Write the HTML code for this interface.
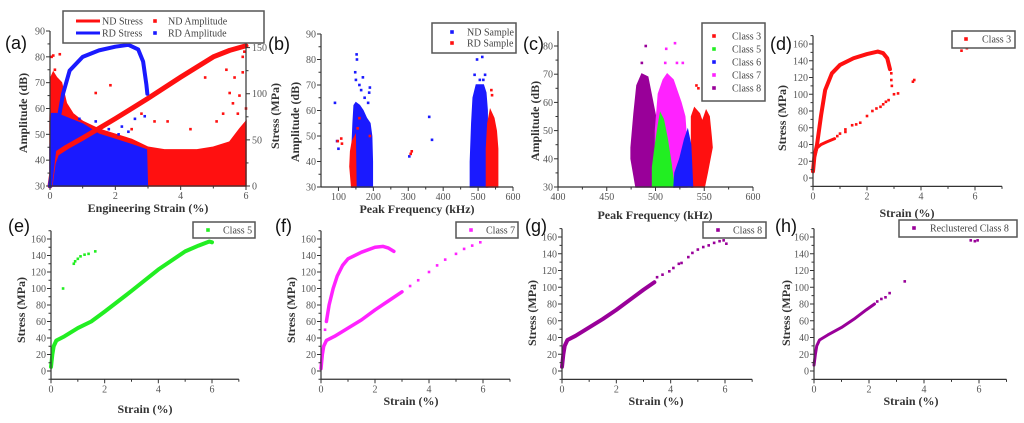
<!DOCTYPE html>
<html><head><meta charset="utf-8"><style>
html,body{margin:0;padding:0;background:#fff;}
svg{display:block;}
.tk{font-family:"Liberation Serif",serif;font-size:10px;fill:#555;}
.lb{font-family:"Liberation Serif",serif;font-size:12px;font-weight:bold;fill:#333;}
.lt{font-family:"Liberation Sans",sans-serif;font-size:18px;fill:#111;}
.lg{font-family:"Liberation Serif",serif;font-size:10px;fill:#444;}
</style></head><body>
<svg id="fig" width="1024" height="423" viewBox="0 0 1024 423" xmlns="http://www.w3.org/2000/svg"></svg>
<script>
// ---------- DATA ----------
// (a)
const aNDStress=[[0,0],[0.1,25],[0.2,35],[0.5,42],[1,52],[2,73],[3,95],[4,118],[5,140],[5.5,147],[6,152]];
const aRDStress=[[0,0],[0.2,60],[0.4,100],[0.6,125],[1,140],[1.5,147],[2,151],[2.4,153],[2.7,148],[2.85,135],[2.95,110],[2.98,100]];
const aNDAmpCloud=[[0,30],[0,55],[0.03,72],[0.1,74],[0.2,72],[0.35,70],[0.5,62],[0.7,58],[1,55],[1.5,52],[2,50],[2.5,48],[3,45],[3.5,44],[4,44],[4.5,44],[5,45],[5.5,47],[5.8,52],[6,55],[6,30]];
const aRDAmpCloud=[[0,30],[0,45],[0.05,58],[0.2,58],[0.4,57],[0.6,56],[1,54],[1.5,50],[2,48],[2.5,46],[2.95,44],[2.98,30]];
const aNDAmpPts=[[0.05,80],[0.1,80.5],[0.3,81],[0.15,75],[1.4,66],[1.85,69],[4.75,72],[5.4,75],[5.65,72],[5.95,82],[5.9,80],[5.9,74],[5.5,66],[5.6,62],[5.3,58],[5.1,55],[4.3,52],[3.6,55],[3.2,55],[2.8,58],[2.5,52],[5.8,65],[6,60],[5.75,58]];
const aRDAmpPts=[[0.9,56],[1.4,55],[1.8,52],[2.1,50],[2.2,53],[2.6,56],[2.9,57],[2.4,51]];
// (b)
const bNDCloud1=[[138,30],[139,45],[142,55],[145,62],[150,63],[160,62],[170,60],[180,57],[190,55],[195,50],[197,40],[197,30]];
const bNDCloud2=[[478,30],[478,40],[482,55],[486,65],[495,70],[505,70],[515,70],[522,67],[526,60],[527,30]];
const bRDCloud1=[[133,38],[135,44],[140,48],[148,50],[150,30],[138,30]];
const bRDCloud2=[[524,30],[524,45],[528,55],[535,60],[545,57],[552,52],[556,45],[556,30]];
const bNDPts=[[152,82],[153,80],[148,75],[150,72],[160,70],[170,73],[165,68],[190,69],[188,67],[175,65],[185,63],[90,63],[96,48],[100,45],[360,57.5],[368,48.5],[303,42],[497,80],[512,81],[520,74],[505,72],[490,74],[515,72]];
const bRDPts=[[108,49],[110,47],[98,48],[160,57],[155,53],[307,43],[310,44],[540,66],[538,68],[190,50]];
// (c)
const cClass8=[[475,44],[478,56],[481,66],[486,70],[492,69],[496,62],[500,55],[500,30],[480,30],[475,40]];
const cClass7=[[500,30],[500,50],[503,63],[508,68],[512,70],[518,68],[522,64],[526,60],[530,55],[532,45],[532,30]];
const cClass5=[[497,30],[497,37],[500,45],[503,52],[505,56],[508,54],[512,47],[516,38],[519,30]];
const cClass6=[[519,30],[520,35],[525,40],[530,47],[533,50],[536,45],[538,30]];
const cClass3=[[537,30],[537,55],[540,58],[545,56],[548,53],[552,57],[555,55],[557,48],[558,44],[553,35],[550,30]];
const cClass8Pts=[[490,80],[486,74]];
const cClass7Pts=[[520,81],[511,79],[522,74],[528,74],[510,74]];
const cClass3Pts=[[542,66],[544,65]];
// (d)
const dCurve1=[[0,8],[0.05,25],[0.15,40],[0.3,75],[0.45,105],[0.7,125],[1,135],[1.5,143],[2,148],[2.4,151],[2.6,149],[2.75,143],[2.85,130]];
const dCurve2=[[0.05,25],[0.15,36],[0.3,40],[0.5,43],[0.8,47]];
const dPts=[[2.9,117],[2.92,110],[2.9,125],[3,100],[3.15,101],[2.8,93],[2.7,91],[2.6,88],[2.5,85],[2.35,83],[2.2,80],[2,74],[1.75,66],[1.6,64],[1.45,63],[1.2,58],[1.2,55],[1,53],[0.9,50],[3.75,117],[3.7,115],[5.5,152],[5.7,155]];
// (e)
const eCurve=[[0,5],[0.05,20],[0.1,30],[0.2,37],[0.5,42],[1,52],[1.5,60],[2,72],[3,97],[4,123],[5,145],[5.5,152],[5.9,157],[6,156]];
const ePts=[[0.45,100],[0.85,130],[0.9,133],[1,136],[1.1,139],[1.25,141],[1.4,142],[1.65,145]];
// (f)
const fCurve1=[[0,3],[0.05,20],[0.1,30],[0.2,37],[0.5,42],[1,52],[1.5,62],[2,74],[2.5,85],[3,96]];
const fCurve2=[[0.2,60],[0.3,80],[0.45,100],[0.6,115],[0.8,128],[1,136],[1.5,144],[2,150],[2.3,151],[2.5,149],[2.7,145]];
const fPts=[[0.15,50],[3.3,103],[3.6,110],[4,120],[4.3,128],[4.6,135],[5,142],[5.3,148],[5.6,152],[5.9,156]];
// (g)
const gCurve=[[0,5],[0.05,20],[0.1,30],[0.2,37],[0.5,42],[1,52],[1.5,62],[2,73],[2.5,85],[3,97],[3.4,106]];
const gPts=[[3.5,112],[3.7,115],[3.95,119],[4.1,123],[4.3,128],[4.4,129],[4.65,136],[4.8,141],[5,145],[5.2,148],[5.4,150],[5.6,153],[5.8,155],[5.95,156],[6.05,152]];
// (h)
const hCurve=[[0,7],[0.05,20],[0.1,30],[0.2,37],[0.5,43],[1,52],[1.5,63],[1.9,73],[2.2,80]];
const hPts=[[2.3,83],[2.45,86],[2.6,88],[2.75,93],[3.3,107],[5.7,156],[5.85,155],[5.95,156]];
// ticks
const strainTicks=[0,2,4,6];
const stressTicks=[0,20,40,60,80,100,120,140,160];
const ampTicksA=[30,40,50,60,70,80,90];
const stressTicksA=[0,50,100,150];
const freqTicksB=[100,200,300,400,500,600];
const freqTicksC=[400,450,500,550,600];
const ampTicksC=[30,40,50,60,70,80];

// ---------- DRAW ----------
const NS='http://www.w3.org/2000/svg';
const svg=document.getElementById('fig');
function mk(tag,attrs,name,parent){
  const e=document.createElementNS(NS,tag);
  for(const k in attrs)e.setAttribute(k,attrs[k]);
  
  
  (parent||svg).appendChild(e);return e;
}
function txt(x,y,s,cls,name,extra){
  const t=mk('text',Object.assign({x:x,y:y,class:cls},extra||{}),name);
  t.textContent=s;return t;
}
function scale(d,p){return v=>p[0]+(v-d[0])*(p[1]-p[0])/(d[1]-d[0]);}
const RED='#ff1010',BLUE='#1a1aff',GREEN='#22ee22',MAG='#ff22ff',PUR='#990099';

function axes(P){
  const g=mk('g',{},P.id+'-axes');
  const X=P.X,Y=P.Y;
  const yb=Y(P.yr[0]),yt=Y(P.yr[1]),xl=X(P.xr[0]),xr=X(P.xr[1]);
  mk('line',{x1:xl,y1:yb,x2:xr,y2:yb,stroke:'#333','stroke-width':1.2},P.id+'-x-axis',g);
  mk('line',{x1:xl,y1:yb,x2:xl,y2:yt,stroke:'#333','stroke-width':1.2},P.id+'-y-axis',g);
  P.xt.forEach(v=>{mk('line',{x1:X(v),y1:yb,x2:X(v),y2:yb+4,stroke:'#333'},P.id+'-x-tick',g);
    txt(X(v),yb+13,String(v),'tk',P.id+'-x-tick-label',{'text-anchor':'middle'});});
  P.xm.forEach(v=>mk('line',{x1:X(v),y1:yb,x2:X(v),y2:yb+2.5,stroke:'#333'},P.id+'-x-minor-tick',g));
  P.yt.forEach(v=>{mk('line',{x1:xl,y1:Y(v),x2:xl-4,y2:Y(v),stroke:'#333'},P.id+'-y-tick',g);
    txt(xl-5,Y(v)+3.5,String(v),'tk',P.id+'-y-tick-label',{'text-anchor':'end'});});
  P.ym.forEach(v=>mk('line',{x1:xl,y1:Y(v),x2:xl-2.5,y2:Y(v),stroke:'#333'},P.id+'-y-minor-tick',g));
}
function poly(P,pts,col,name){
  mk('polygon',{points:pts.map(p=>P.X(p[0])+','+P.Y(p[1])).join(' '),fill:col,stroke:col,'stroke-width':1.5},name);
}
function curve(P,pts,col,w,name,Yf){
  const Yy=Yf||P.Y;
  mk('polyline',{points:pts.map(p=>P.X(p[0])+','+Yy(p[1])).join(' '),fill:'none',stroke:col,'stroke-width':w,'stroke-linejoin':'round','stroke-linecap':'round'},name);
}
function dots(P,pts,col,name,Yf){
  const Yy=Yf||P.Y;
  pts.forEach(p=>mk('rect',{x:P.X(p[0])-1.3,y:Yy(p[1])-1.3,width:2.6,height:2.6,fill:col},name));
}
function legend(x,y,w,h,items,name){
  const g=mk('g',{},name);
  mk('rect',{x:x,y:y,width:w,height:h,fill:'#fff',stroke:'#555','stroke-width':1.5},name+'-box',g);
  items.forEach(it=>{
    if(it.line) mk('line',{x1:it.mx-12,y1:it.y,x2:it.mx+12,y2:it.y,stroke:it.c,'stroke-width':3},name+'-marker',g);
    else mk('rect',{x:it.mx-1.8,y:it.y-1.8,width:3.6,height:3.6,fill:it.c},name+'-marker',g);
    txt(it.tx,it.y+3.5,it.t,'lg',name+'-entry');
  });
}
function ylabel(x,y,s,name){txt(x,y,s,'lb',name,{'text-anchor':'middle',transform:'rotate(-90 '+x+' '+y+')'});}

// Panel a
const A={id:'panel-a',X:scale([0,6],[50,246]),Y:scale([30,90],[186,31]),xr:[0,6],yr:[30,90],xt:strainTicks,xm:[1,3,5],yt:ampTicksA,ym:[35,45,55,65,75,85]};
const AY2=scale([0,168],[186,31]);
poly(A,aNDAmpCloud,RED,'nd-amplitude-cloud');
dots(A,aNDAmpPts,RED,'nd-amplitude-point');
poly(A,aRDAmpCloud,BLUE,'rd-amplitude-cloud');
dots(A,aRDAmpPts,BLUE,'rd-amplitude-point');
curve(A,aNDStress,RED,5,'nd-stress-line',AY2);
curve(A,aRDStress,BLUE,4,'rd-stress-line',AY2);
axes(A);
mk('line',{x1:246,y1:186,x2:246,y2:31,stroke:'#333','stroke-width':1.2},'panel-a-right-axis');
stressTicksA.forEach(v=>{mk('line',{x1:246,y1:AY2(v),x2:250,y2:AY2(v),stroke:'#333'},'panel-a-right-tick');
  txt(252,AY2(v)+3.5,String(v),'tk','panel-a-right-tick-label');});
[25,75,125].forEach(v=>mk('line',{x1:246,y1:AY2(v),x2:248.5,y2:AY2(v),stroke:'#333'},'panel-a-right-minor-tick'));
legend(63,11,201,32,[{mx:88,y:21,c:RED,line:1,t:'ND Stress',tx:102},{mx:88,y:33,c:BLUE,line:1,t:'RD Stress',tx:102},
  {mx:155,y:21,c:RED,t:'ND Amplitude',tx:168},{mx:155,y:33,c:BLUE,t:'RD Amplitude',tx:168}],'panel-a-legend');
txt(5,49,'(a)','lt','panel-a-letter');
ylabel(27,113,'Amplitude (dB)','panel-a-y-title');
ylabel(279,116,'Stress (MPa)','panel-a-right-y-title');
txt(148,212,'Engineering Strain (%)','lb','panel-a-x-title',{'text-anchor':'middle'});

// Panel b
const B={id:'panel-b',X:scale([50,600],[321,513]),Y:scale([30,90],[187,34]),xr:[50,600],yr:[30,90],xt:freqTicksB,xm:[150,250,350,450,550],yt:ampTicksA,ym:[35,45,55,65,75,85]};
poly(B,bNDCloud1,BLUE,'nd-sample-cloud-low');
poly(B,bNDCloud2,BLUE,'nd-sample-cloud-high');
dots(B,bNDPts,BLUE,'nd-sample-point');
poly(B,bRDCloud1,RED,'rd-sample-cloud-low');
poly(B,bRDCloud2,RED,'rd-sample-cloud-high');
dots(B,bRDPts,RED,'rd-sample-point');
axes(B);
legend(432,23,84,30,[{mx:452,y:32,c:BLUE,t:'ND Sample',tx:467},{mx:452,y:43,c:RED,t:'RD Sample',tx:467}],'panel-b-legend');
txt(268,50,'(b)','lt','panel-b-letter');
ylabel(299,122,'Amplitude (dB)','panel-b-y-title');
txt(417,213,'Peak Frequency (kHz)','lb','panel-b-x-title',{'text-anchor':'middle'});

// Panel c
const C={id:'panel-c',X:scale([400,600],[558,753]),Y:scale([30,80],[187,46]),xr:[400,600],yr:[30,85.3],xt:freqTicksC,xm:[425,475,525,575],yt:ampTicksC,ym:[35,45,55,65,75]};
poly(C,cClass8,PUR,'class-8-cloud');dots(C,cClass8Pts,PUR,'class-8-point');
poly(C,cClass7,MAG,'class-7-cloud');dots(C,cClass7Pts,MAG,'class-7-point');
poly(C,cClass3,RED,'class-3-cloud');dots(C,cClass3Pts,RED,'class-3-point');
poly(C,cClass5,GREEN,'class-5-cloud');
poly(C,cClass6,BLUE,'class-6-cloud');
axes(C);
legend(702,23,63,78,[{mx:714,y:36,c:RED,t:'Class 3',tx:732},{mx:714,y:49,c:GREEN,t:'Class 5',tx:732},{mx:714,y:62,c:BLUE,t:'Class 6',tx:732},{mx:714,y:75,c:MAG,t:'Class 7',tx:732},{mx:714,y:88,c:PUR,t:'Class 8',tx:732}],'panel-c-legend');
txt(523,50,'(c)','lt','panel-c-letter');
ylabel(539,121,'Amplitude (dB)','panel-c-y-title');
txt(655,219,'Peak Frequency (kHz)','lb','panel-c-x-title',{'text-anchor':'middle'});

// stress-strain panels
function ssPanel(id,x0,x6,y0,y160){
  return {id:id,X:scale([0,6],[x0,x6]),Y:scale([0,160],[y0,y160]),xr:[0,7],yr:[-10,170],xt:strainTicks,xm:[1,3,5,7],yt:stressTicks,ym:[-10,10,30,50,70,90,110,130,150,170]};
}
const D=ssPanel('panel-d',813,975,178,44);
curve(D,dCurve1,RED,4,'class-3-curve-upper');curve(D,dCurve2,RED,3,'class-3-curve-lower');dots(D,dPts,RED,'class-3-point');
axes(D);
legend(952,31,63,17,[{mx:966,y:39,c:RED,t:'Class 3',tx:982}],'panel-d-legend');
txt(770,50,'(d)','lt','panel-d-letter');
ylabel(786,118,'Stress (MPa)','panel-d-y-title');
txt(907,217,'Strain (%)','lb','panel-d-x-title',{'text-anchor':'middle'});

const E=ssPanel('panel-e',51,212,371,239);
curve(E,eCurve,GREEN,4,'class-5-curve');dots(E,ePts,GREEN,'class-5-point');
axes(E);
legend(193,222,62,16,[{mx:208,y:230,c:GREEN,t:'Class 5',tx:223}],'panel-e-legend');
txt(8,232,'(e)','lt','panel-e-letter');
ylabel(25,310,'Stress (MPa)','panel-e-y-title');
txt(145,413,'Strain (%)','lb','panel-e-x-title',{'text-anchor':'middle'});

const F=ssPanel('panel-f',321,483,371,239);
curve(F,fCurve1,MAG,3.5,'class-7-curve-lower');curve(F,fCurve2,MAG,3.5,'class-7-curve-upper');dots(F,fPts,MAG,'class-7-point');
axes(F);
legend(456,222,62,16,[{mx:471,y:230,c:MAG,t:'Class 7',tx:486}],'panel-f-legend');
txt(275,232,'(f)','lt','panel-f-letter');
ylabel(295,310,'Stress (MPa)','panel-f-y-title');
txt(411,405,'Strain (%)','lb','panel-f-x-title',{'text-anchor':'middle'});

const G=ssPanel('panel-g',562,725,371,237);
curve(G,gCurve,PUR,4,'class-8-curve');dots(G,gPts,PUR,'class-8-point');
axes(G);
legend(703,222,63,16,[{mx:718,y:230,c:PUR,t:'Class 8',tx:733}],'panel-g-legend');
txt(525,232,'(g)','lt','panel-g-letter');
ylabel(536,313,'Stress (MPa)','panel-g-y-title');
txt(656,405,'Strain (%)','lb','panel-g-x-title',{'text-anchor':'middle'});

const H=ssPanel('panel-h',814,979,371,237);
curve(H,hCurve,PUR,3,'reclustered-class-8-curve');dots(H,hPts,PUR,'reclustered-class-8-point');
axes(H);
legend(899,220,118,17,[{mx:914,y:228,c:PUR,t:'Reclustered Class 8',tx:930}],'panel-h-legend');
txt(775,232,'(h)','lt','panel-h-letter');
ylabel(790,313,'Stress (MPa)','panel-h-y-title');
txt(911,405,'Strain (%)','lb','panel-h-x-title',{'text-anchor':'middle'});
</script>
</body></html>
